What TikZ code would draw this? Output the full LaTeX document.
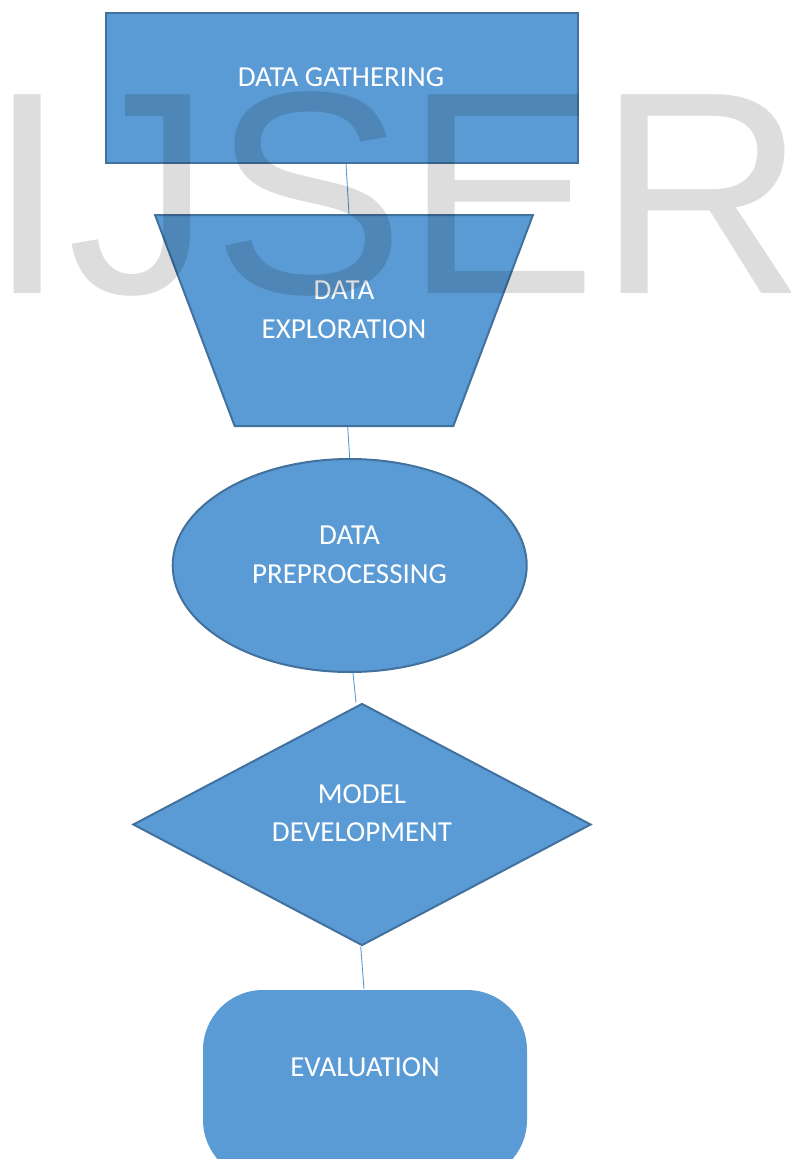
\documentclass[tikz,border=0pt]{standalone}
\usepackage{fontspec}
\setmainfont{Carlito}
\newfontfamily\markfont{Liberation Sans}
\usetikzlibrary{shapes.geometric}
\definecolor{stepblue}{HTML}{5B9BD5}
\definecolor{stepline}{HTML}{41719C}
\definecolor{markgray}{HTML}{DDDDDD}
\begin{document}
\begin{tikzpicture}[x=1pt, y=-1pt,
  stage/.style={fill=stepblue, draw=stepline, line width=2pt, inner sep=0pt},
  lbl/.style={text=white, align=center, inner sep=0pt, font=\fontsize{29}{38.5}\selectfont},
  link/.style={draw=stepblue, line width=0.9pt}]
\useasboundingbox (0,0) rectangle (791,1159);
\clip (0,0) rectangle (791,1159);
% the five stages, top to bottom
\node[stage, rectangle, minimum width=472pt, minimum height=150pt] (gather) at (341.5,88) {};
\node[stage, trapezium, inner sep=4pt, shape border rotate=180, trapezium left angle=70, trapezium right angle=70, trapezium stretches=true, minimum width=378pt, minimum height=211pt] (explore) at (344,320.5) {};
\node[stage, ellipse, minimum width=354pt, minimum height=213pt] (prep) at (349.7,565.5) {};
\node[stage, diamond, minimum width=458pt, minimum height=242pt] (model) at (362,824.5) {};
\node[stage, draw=none, rectangle, rounded corners=60pt, minimum width=324pt, minimum height=190pt] (eval) at (365,1085) {};
% labels sit a little above the middle
\node[lbl] (gather-t) at (341,77) {DATA GATHERING};
\node[lbl] (explore-t) at (344,310) {DATA\\EXPLORATION};
\node[lbl] (prep-t) at (349.5,555) {DATA\\PREPROCESSING};
\node[lbl] (model-t) at (362,813.4) {MODEL\\DEVELOPMENT};
\node[lbl] (eval-t) at (365,1067) {EVALUATION};
% thin joins
\draw[link] ([xshift=4.5pt]gather.south) -- ([xshift=5pt]explore.north);
\draw[link] ([xshift=3.7pt]explore.south) -- (prep.north);
\draw[link] ([xshift=3.3pt]prep.south) -- ([xshift=-6pt]model.north);
\draw[link] ([xshift=-1.3pt]model.south) -- ([xshift=-1pt]eval.north);
% watermark on top
\begin{scope}[blend mode=multiply]
\node[font=\markfont\fontsize{289}{289}\selectfont, text=markgray, anchor=base west, inner sep=0pt] (mark) at (-13,293.3) {IJSER};
\end{scope}
\end{tikzpicture}
\end{document}
